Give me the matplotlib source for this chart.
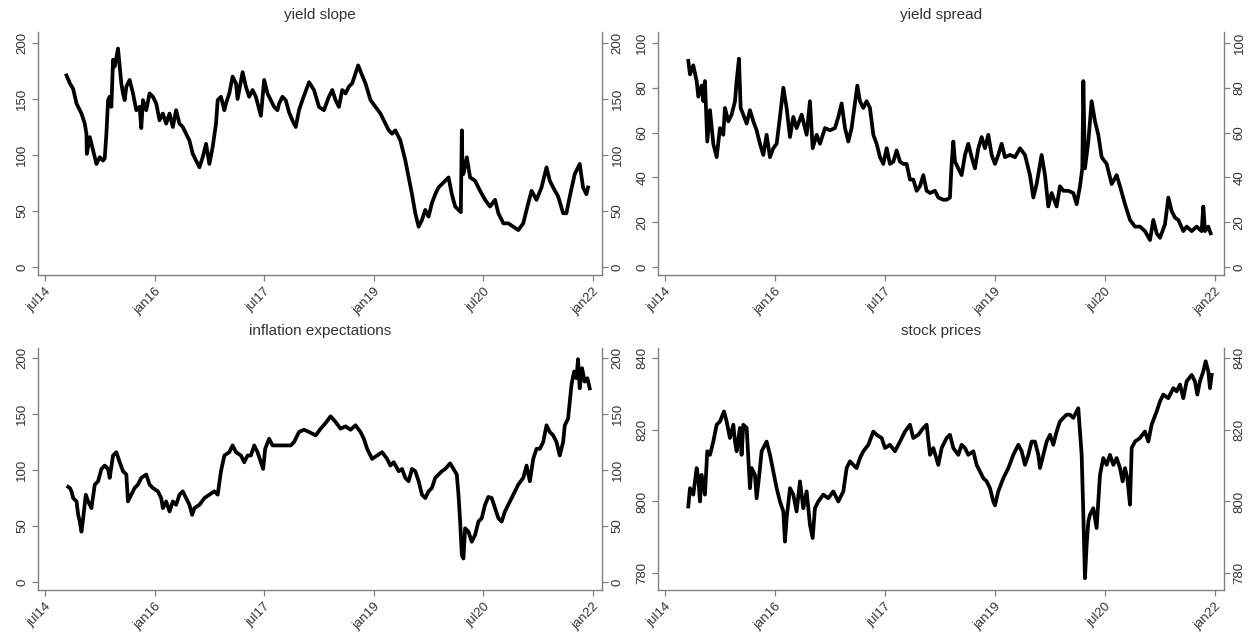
import matplotlib
matplotlib.use("Agg")
import matplotlib.pyplot as plt

plt.rcParams["font.family"] = ["Liberation Sans", "DejaVu Sans"]

# ---------------- data (decimal-year dates, values) ----------------
slope_t = [2014.795, 2014.841, 2014.886, 2014.932, 2015.000, 2015.045, 2015.068, 2015.073, 2015.114, 2015.159,
           2015.205, 2015.250, 2015.295, 2015.318, 2015.341, 2015.364, 2015.386, 2015.409, 2015.432, 2015.455,
           2015.477, 2015.500, 2015.523, 2015.545, 2015.568, 2015.591, 2015.614, 2015.659, 2015.705, 2015.750,
           2015.795, 2015.818, 2015.841, 2015.886, 2015.932, 2015.977, 2016.023, 2016.068, 2016.114, 2016.159,
           2016.205, 2016.250, 2016.295, 2016.341, 2016.386, 2016.432, 2016.477, 2016.523, 2016.568, 2016.614,
           2016.659, 2016.705, 2016.750, 2016.795, 2016.841, 2016.864, 2016.909, 2016.955, 2016.977, 2017.023,
           2017.068, 2017.114, 2017.136, 2017.159, 2017.205, 2017.250, 2017.295, 2017.341, 2017.386, 2017.455,
           2017.500, 2017.545, 2017.591, 2017.636, 2017.682, 2017.705, 2017.750, 2017.795, 2017.841, 2017.886,
           2017.932, 2017.977, 2018.023, 2018.114, 2018.182, 2018.250, 2018.318, 2018.386, 2018.432, 2018.477,
           2018.523, 2018.568, 2018.614, 2018.659, 2018.705, 2018.750, 2018.786, 2018.841, 2018.886, 2018.955,
           2019.023, 2019.091, 2019.159, 2019.205, 2019.250, 2019.295, 2019.364, 2019.432, 2019.477, 2019.523,
           2019.568, 2019.614, 2019.659, 2019.705, 2019.750, 2019.795, 2019.841, 2019.886, 2019.932, 2019.977,
           2020.023, 2020.068, 2020.114, 2020.159, 2020.191, 2020.205, 2020.215, 2020.227, 2020.273, 2020.318,
           2020.386, 2020.455, 2020.523, 2020.591, 2020.659, 2020.705, 2020.773, 2020.841, 2020.909, 2020.977,
           2021.045, 2021.114, 2021.159, 2021.227, 2021.295, 2021.364, 2021.409, 2021.455, 2021.523, 2021.591,
           2021.636, 2021.682, 2021.750, 2021.818, 2021.864, 2021.909, 2021.932]
slope_v = [171, 164, 159, 146, 137, 128, 119, 101, 116, 104,
           92, 98, 95, 97, 119, 149, 152, 143, 185, 179,
           187, 195, 179, 164, 155, 149, 161, 167, 155, 140,
           143, 124, 149, 140, 155, 152, 146, 131, 137, 128,
           137, 125, 140, 128, 125, 119, 113, 101, 95, 89,
           98, 110, 92, 107, 128, 149, 152, 140, 146, 155,
           170, 164, 150, 158, 174, 161, 152, 158, 152, 135,
           167, 155, 149, 143, 140, 146, 152, 149, 138, 131,
           125, 140, 149, 165, 158, 143, 140, 152, 158, 149,
           143, 158, 155, 161, 164, 173, 180, 171, 164, 149,
           143, 137, 128, 122, 119, 122, 113, 95, 80, 65,
           48, 36, 42, 51, 45, 57, 65, 71, 74, 77,
           80, 65, 54, 51, 49, 122, 83, 83, 98, 80,
           77, 68, 60, 54, 60, 48, 39, 39, 36, 33,
           39, 57, 68, 60, 71, 89, 77, 71, 63, 48,
           48, 63, 83, 92, 71, 65, 71]

spread_t = [2014.818, 2014.841, 2014.886, 2014.932, 2014.955, 2015.000, 2015.023, 2015.045, 2015.077, 2015.114,
            2015.159, 2015.205, 2015.250, 2015.295, 2015.318, 2015.364, 2015.409, 2015.455, 2015.477, 2015.509,
            2015.532, 2015.568, 2015.614, 2015.659, 2015.705, 2015.750, 2015.795, 2015.841, 2015.886, 2015.932,
            2015.977, 2016.023, 2016.068, 2016.114, 2016.159, 2016.205, 2016.250, 2016.295, 2016.364, 2016.432,
            2016.477, 2016.514, 2016.568, 2016.614, 2016.682, 2016.750, 2016.818, 2016.864, 2016.909, 2016.955,
            2017.000, 2017.045, 2017.091, 2017.123, 2017.159, 2017.205, 2017.250, 2017.295, 2017.341, 2017.386,
            2017.432, 2017.477, 2017.523, 2017.568, 2017.614, 2017.659, 2017.705, 2017.750, 2017.795, 2017.841,
            2017.886, 2017.932, 2017.977, 2018.023, 2018.068, 2018.114, 2018.182, 2018.227, 2018.295, 2018.341,
            2018.386, 2018.409, 2018.432, 2018.455, 2018.500, 2018.545, 2018.591, 2018.636, 2018.682, 2018.727,
            2018.773, 2018.818, 2018.864, 2018.909, 2018.955, 2019.000, 2019.045, 2019.091, 2019.136, 2019.205,
            2019.273, 2019.341, 2019.409, 2019.477, 2019.523, 2019.568, 2019.636, 2019.682, 2019.727, 2019.773,
            2019.841, 2019.886, 2019.932, 2020.000, 2020.068, 2020.114, 2020.159, 2020.191, 2020.205, 2020.227,
            2020.273, 2020.318, 2020.364, 2020.409, 2020.455, 2020.523, 2020.591, 2020.659, 2020.705, 2020.773,
            2020.841, 2020.909, 2020.977, 2021.045, 2021.114, 2021.159, 2021.205, 2021.250, 2021.318, 2021.364,
            2021.409, 2021.455, 2021.500, 2021.568, 2021.614, 2021.682, 2021.750, 2021.818, 2021.841, 2021.864,
            2021.909, 2021.941]
spread_v = [92, 86, 90, 83, 76, 81, 74, 83, 56, 70,
            55, 49, 62, 59, 71, 65, 68, 74, 83, 93,
            71, 68, 64, 70, 65, 61, 55, 50, 59, 49,
            53, 55, 67, 80, 71, 58, 67, 62, 68, 59,
            74, 53, 59, 55, 62, 61, 62, 67, 73, 62,
            56, 62, 73, 81, 74, 71, 74, 71, 59, 55,
            49, 46, 53, 46, 47, 52, 47, 46, 46, 39,
            39, 34, 36, 41, 34, 33, 34, 31, 30, 30,
            31, 46, 56, 47, 44, 41, 50, 55, 49, 44,
            53, 58, 53, 59, 50, 46, 50, 55, 49, 50,
            49, 53, 50, 41, 31, 37, 50, 41, 27, 33,
            27, 36, 34, 34, 33, 28, 36, 44, 83, 44,
            56, 74, 65, 59, 49, 46, 37, 41, 36, 28,
            21, 18, 18, 16, 12, 21, 15, 13, 19, 31,
            25, 22, 21, 16, 18, 16, 18, 16, 27, 16,
            18, 15]

infl_t = [2014.818, 2014.841, 2014.864, 2014.886, 2014.932, 2014.955, 2014.977, 2015.000, 2015.023, 2015.059,
          2015.091, 2015.136, 2015.182, 2015.227, 2015.273, 2015.318, 2015.364, 2015.386, 2015.432, 2015.477,
          2015.523, 2015.568, 2015.614, 2015.636, 2015.682, 2015.727, 2015.773, 2015.818, 2015.886, 2015.932,
          2015.977, 2016.045, 2016.091, 2016.114, 2016.159, 2016.205, 2016.250, 2016.295, 2016.341, 2016.386,
          2016.432, 2016.477, 2016.514, 2016.545, 2016.614, 2016.682, 2016.750, 2016.818, 2016.864, 2016.909,
          2016.955, 2017.023, 2017.068, 2017.114, 2017.182, 2017.227, 2017.273, 2017.318, 2017.364, 2017.409,
          2017.455, 2017.486, 2017.514, 2017.568, 2017.614, 2017.682, 2017.773, 2017.864, 2017.909, 2017.977,
          2018.045, 2018.114, 2018.205, 2018.273, 2018.341, 2018.409, 2018.477, 2018.545, 2018.614, 2018.682,
          2018.750, 2018.818, 2018.864, 2018.909, 2018.977, 2019.045, 2019.114, 2019.182, 2019.227, 2019.273,
          2019.341, 2019.386, 2019.432, 2019.477, 2019.523, 2019.568, 2019.614, 2019.659, 2019.705, 2019.750,
          2019.795, 2019.841, 2019.886, 2019.932, 2019.977, 2020.045, 2020.091, 2020.136, 2020.159, 2020.182,
          2020.205, 2020.227, 2020.250, 2020.295, 2020.341, 2020.386, 2020.432, 2020.477, 2020.523, 2020.568,
          2020.614, 2020.659, 2020.705, 2020.750, 2020.795, 2020.841, 2020.886, 2020.932, 2020.977, 2021.045,
          2021.091, 2021.136, 2021.182, 2021.227, 2021.273, 2021.318, 2021.364, 2021.409, 2021.455, 2021.500,
          2021.545, 2021.591, 2021.614, 2021.659, 2021.682, 2021.705, 2021.741, 2021.773, 2021.795, 2021.818,
          2021.850, 2021.886, 2021.923, 2021.955]
infl_v = [85, 84, 81, 75, 72, 60, 54, 45, 57, 78,
          72, 66, 87, 90, 101, 104, 101, 93, 113, 116,
          107, 99, 96, 72, 78, 84, 87, 93, 96, 87,
          84, 81, 75, 66, 72, 63, 72, 69, 78, 81,
          75, 69, 60, 66, 69, 75, 78, 81, 78, 99,
          113, 116, 122, 116, 113, 107, 113, 113, 122, 116,
          107, 101, 119, 128, 122, 122, 122, 122, 125, 134,
          136, 134, 131, 137, 142, 148, 143, 137, 139, 136,
          140, 134, 128, 119, 110, 113, 116, 110, 104, 107,
          99, 101, 93, 90, 101, 99, 90, 78, 75, 81,
          84, 93, 96, 99, 101, 106, 101, 96, 78, 54,
          24, 21, 48, 45, 36, 42, 54, 57, 69, 76,
          75, 66, 57, 54, 63, 69, 75, 81, 87, 93,
          104, 90, 110, 119, 119, 125, 140, 134, 131, 125,
          113, 125, 140, 146, 161, 176, 188, 182, 199, 173,
          191, 179, 182, 173]

stock_t = [2014.818, 2014.841, 2014.886, 2014.932, 2014.955, 2014.977, 2015.000, 2015.045, 2015.077, 2015.114,
           2015.159, 2015.205, 2015.250, 2015.305, 2015.341, 2015.386, 2015.432, 2015.455, 2015.477, 2015.523,
           2015.545, 2015.568, 2015.614, 2015.636, 2015.659, 2015.682, 2015.727, 2015.750, 2015.786, 2015.818,
           2015.886, 2015.932, 2015.977, 2016.023, 2016.068, 2016.114, 2016.136, 2016.159, 2016.205, 2016.250,
           2016.295, 2016.341, 2016.386, 2016.432, 2016.477, 2016.514, 2016.545, 2016.591, 2016.659, 2016.727,
           2016.795, 2016.864, 2016.932, 2016.977, 2017.023, 2017.068, 2017.114, 2017.159, 2017.205, 2017.273,
           2017.341, 2017.386, 2017.455, 2017.500, 2017.568, 2017.636, 2017.705, 2017.773, 2017.841, 2017.886,
           2017.955, 2018.023, 2018.068, 2018.114, 2018.159, 2018.227, 2018.273, 2018.341, 2018.386, 2018.432,
           2018.500, 2018.545, 2018.591, 2018.636, 2018.705, 2018.750, 2018.795, 2018.841, 2018.886, 2018.932,
           2018.977, 2019.000, 2019.045, 2019.114, 2019.182, 2019.250, 2019.318, 2019.364, 2019.409, 2019.455,
           2019.500, 2019.545, 2019.591, 2019.614, 2019.659, 2019.705, 2019.750, 2019.795, 2019.841, 2019.886,
           2019.932, 2019.977, 2020.023, 2020.068, 2020.114, 2020.136, 2020.159, 2020.182, 2020.205, 2020.227,
           2020.250, 2020.273, 2020.295, 2020.341, 2020.386, 2020.432, 2020.477, 2020.523, 2020.568, 2020.614,
           2020.659, 2020.705, 2020.741, 2020.773, 2020.805, 2020.841, 2020.864, 2020.909, 2020.977, 2021.045,
           2021.091, 2021.136, 2021.205, 2021.250, 2021.295, 2021.364, 2021.432, 2021.477, 2021.523, 2021.568,
           2021.614, 2021.682, 2021.727, 2021.759, 2021.795, 2021.841, 2021.873, 2021.909, 2021.932, 2021.955]
stock_v = [798.6, 803.7, 801.9, 809.3, 806.5, 800.0, 807.4, 801.9, 814.0, 813.0,
           816.7, 821.4, 822.3, 825.1, 822.3, 817.7, 821.4, 816.7, 814.0, 820.5,
           813.0, 821.4, 820.5, 812.1, 803.7, 809.3, 807.4, 800.9, 807.4, 814.0,
           816.7, 813.0, 808.4, 803.7, 800.0, 797.2, 788.8, 795.3, 803.7, 801.9,
           797.2, 805.6, 798.1, 802.8, 793.5, 789.8, 798.1, 800.0, 801.9, 800.9,
           802.8, 800.0, 802.8, 809.3, 811.2, 810.2, 809.3, 812.1, 814.0, 815.8,
           819.5, 818.6, 817.7, 814.9, 815.8, 814.0, 816.7, 819.5, 821.4, 817.7,
           818.6, 820.5, 821.4, 813.0, 814.9, 810.2, 814.9, 817.7, 818.6, 814.9,
           813.0, 815.8, 814.9, 813.0, 814.0, 810.2, 808.4, 806.5, 805.6, 803.7,
           800.0, 798.9, 802.8, 806.5, 809.3, 813.0, 815.8, 814.0, 810.2, 813.0,
           816.7, 816.7, 813.0, 809.3, 813.0, 816.7, 818.6, 815.8, 819.5, 822.3,
           823.3, 824.2, 824.2, 823.3, 825.1, 826.0, 819.5, 813.0, 796.3, 778.6,
           787.9, 794.4, 796.3, 798.1, 792.6, 807.4, 812.1, 810.2, 813.0, 810.2,
           812.1, 809.3, 805.6, 809.3, 806.5, 799.1, 814.9, 816.7, 817.7, 819.5,
           816.7, 821.4, 825.1, 827.9, 829.8, 828.8, 831.6, 830.7, 832.6, 828.8,
           833.5, 835.3, 833.5, 829.8, 833.5, 836.3, 839.1, 836.3, 831.6, 835.3]

titles = ["yield slope", "yield spread", "inflation expectations", "stock prices"]
xtick_pos = [2014.5, 2016.0, 2017.5, 2019.0, 2020.5, 2022.0]
xtick_lab = ["jul14", "jan16", "jul17", "jan19", "jul20", "jan22"]
yticks_slope = [0, 50, 100, 150, 200]
yticks_spread = [0, 20, 40, 60, 80, 100]
yticks_infl = [0, 50, 100, 150, 200]
yticks_stock = [780, 800, 820, 840]

# ---------------- drawing ----------------
W, H = 1252, 635
fig = plt.figure(figsize=(W / 100, H / 100), dpi=100)
fig.patch.set_facecolor("white")

AXIS_COL = "#808080"
TEXT_COL = "#333333"


def box(left, right, top, bottom):
    return [left / W, (H - bottom) / H, (right - left) / W, (bottom - top) / H]


panels = [
    (box(38, 602, 32, 275), slope_t, slope_v, yticks_slope, (-7.1, 209.8), titles[0]),
    (box(658, 1224, 32, 275), spread_t, spread_v, yticks_spread, (-3.6, 104.9), titles[1]),
    (box(38, 602, 348, 590), infl_t, infl_v, yticks_infl, (-7.1, 209.0), titles[2]),
    (box(658, 1224, 348, 590), stock_t, stock_v, yticks_stock, (775.3, 842.8), titles[3]),
]

for rect, t, v, yt, ylim, title in panels:
    ax = fig.add_axes(rect)
    ax.plot(t, v, color="black", lw=2.7, solid_joinstyle="round")
    ax.set_xlim(2014.405, 2022.123)
    ax.set_ylim(*ylim)
    ax.set_xticks(xtick_pos)
    ax.set_xticklabels(xtick_lab)
    ax.set_yticks(yt)
    ax.set_yticklabels([str(y) for y in yt])
    for s in ("left", "right", "bottom"):
        ax.spines[s].set_color(AXIS_COL)
        ax.spines[s].set_linewidth(1.0)
    ax.spines["top"].set_visible(False)
    ax.tick_params(axis="both", which="both", direction="out", length=4,
                   width=0.9, color=AXIS_COL, labelcolor=TEXT_COL, labelsize=9.5)
    ax.tick_params(axis="y", left=True, right=True, labelleft=True,
                   labelright=True, labelrotation=90, pad=3)
    for lab in ax.get_yticklabels():
        lab.set_va("center")
    for lab in ax.get_xticklabels():
        lab.set_rotation(45)
        lab.set_ha("right")
        lab.set_va("top")
        lab.set_rotation_mode("anchor")
    ax.set_title(title, fontsize=11, color=TEXT_COL, pad=9)
    ax.set_facecolor("white")

fig.savefig("out.png", dpi=100, facecolor="white")
